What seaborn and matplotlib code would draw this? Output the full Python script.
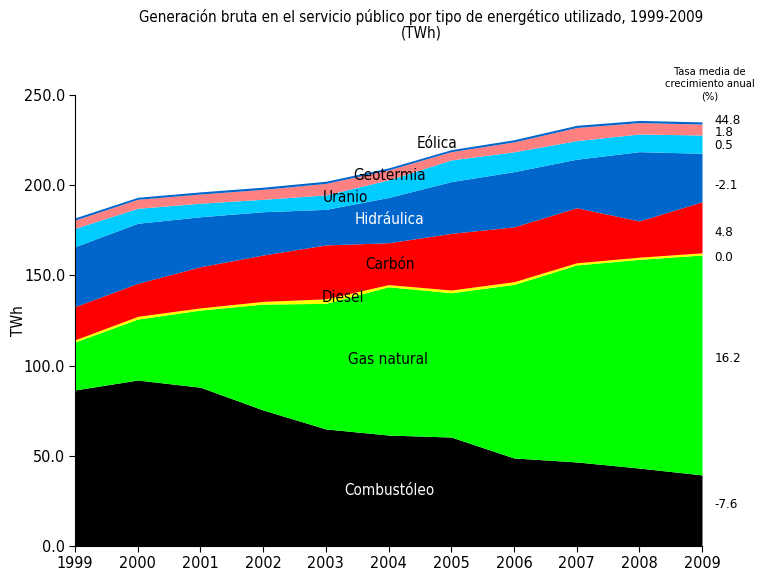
import matplotlib
matplotlib.use("Agg")
import matplotlib.pyplot as plt
import seaborn as sns
import numpy as np

years = [1999, 2000, 2001, 2002, 2003, 2004, 2005, 2006, 2007, 2008, 2009]
combustoleo = [86.5, 92.0, 88.0, 75.4, 64.9, 61.5, 60.4, 48.8, 46.6, 43.2, 39.4]
gas_natural = [26.6, 33.8, 42.8, 58.7, 69.6, 82.2, 80.0, 96.2, 109.2, 115.7, 121.9]
diesel = [1.2, 1.5, 1.2, 1.5, 2.5, 1.2, 1.5, 1.5, 1.2, 1.2, 1.2]
carbon = [18.4, 18.3, 22.8, 25.7, 29.9, 23.2, 31.4, 30.4, 30.5, 20.1, 28.3]
hidraulica = [33.2, 33.3, 27.7, 24.0, 19.7, 25.1, 28.7, 30.6, 26.9, 38.4, 26.9]
uranio = [10.2, 8.3, 7.5, 6.9, 8.0, 9.8, 12.0, 11.0, 10.3, 9.8, 10.1]
geotermia = [4.6, 5.0, 5.1, 5.5, 6.4, 5.5, 4.6, 5.5, 7.3, 6.3, 6.1]
eolica = [1.2, 1.1, 1.2, 1.2, 1.2, 1.1, 1.1, 1.2, 1.2, 1.2, 1.2]

series_names = ["Combustóleo", "Gas natural", "Diesel", "Carbón", "Hidráulica",
                "Uranio", "Geotermia", "Eólica"]
series_colors = ["#000000", "#00FF00", "#FFFF00", "#FF0000", "#0066CC",
                 "#00CCFF", "#FF8080", "#0066CC"]
growth_rates = ["-7.6", "16.2", "0.0", "4.8", "-2.1", "0.5", "1.8", "44.8"]
growth_y = [23, 104, 160, 174, 200, 222, 229, 236]

label_pos = {
    "Eólica": (2004.77, 223.3, "black"),
    "Geotermia": (2004.02, 205.3, "black"),
    "Uranio": (2003.31, 193.4, "black"),
    "Hidráulica": (2004.02, 181.2, "white"),
    "Carbón": (2004.02, 156.2, "black"),
    "Diesel": (2003.27, 137.9, "black"),
    "Gas natural": (2003.99, 103.2, "black"),
    "Combustóleo": (2004.02, 31.0, "white"),
}

sns.set_theme(style="ticks")
plt.rcParams["font.family"] = ["DejaVu Sans"]
plt.rcParams["font.stretch"] = "condensed"

fig = plt.figure(figsize=(7.59, 5.78), dpi=100)
ax = fig.add_axes([75 / 759, 32 / 578, 627 / 759, 451 / 578])

data = [combustoleo, gas_natural, diesel, carbon, hidraulica, uranio, geotermia, eolica]
ax.stackplot(years, *data, colors=series_colors, linewidth=0)

ax.set_xlim(1999, 2009)
ax.set_ylim(0, 250)
ax.set_xticks(years)
ax.set_xticklabels([str(y) for y in years])
ax.set_yticks([0, 50, 100, 150, 200, 250])
ax.set_yticklabels([f"{v:.1f}" for v in [0, 50, 100, 150, 200, 250]])
ax.tick_params(axis="both", labelsize=11.5, length=4, width=0.8, color="black",
               labelcolor="black", direction="out", pad=3)
ax.set_ylabel("TWh", fontsize=11, color="black")
ax.yaxis.set_label_coords(-0.078, 0.5)
sns.despine(ax=ax, top=True, right=True)
for s in ["left", "bottom"]:
    ax.spines[s].set_color("black")
    ax.spines[s].set_linewidth(0.8)
ax.grid(False)
ax.set_facecolor("white")

for name, (x, y, c) in label_pos.items():
    ax.text(x, y, name, ha="center", va="center", fontsize=11, color=c)

for val, y in zip(growth_rates, growth_y):
    ax.text(2009.2, y, val, ha="left", va="center", fontsize=9.5, color="black",
            clip_on=False)

ax.text(2009.13, 246.5, "Tasa media de\ncrecimiento anual\n(%)", ha="center",
        va="bottom", fontsize=8, color="black", linespacing=1.3, clip_on=False)

fig.text(0.555, 0.985, "Generación bruta en el servicio público por tipo de energético utilizado, 1999-2009\n(TWh)",
         ha="center", va="top", fontsize=10.8, color="black", linespacing=1.1)

fig.savefig("out.png", dpi=100)
